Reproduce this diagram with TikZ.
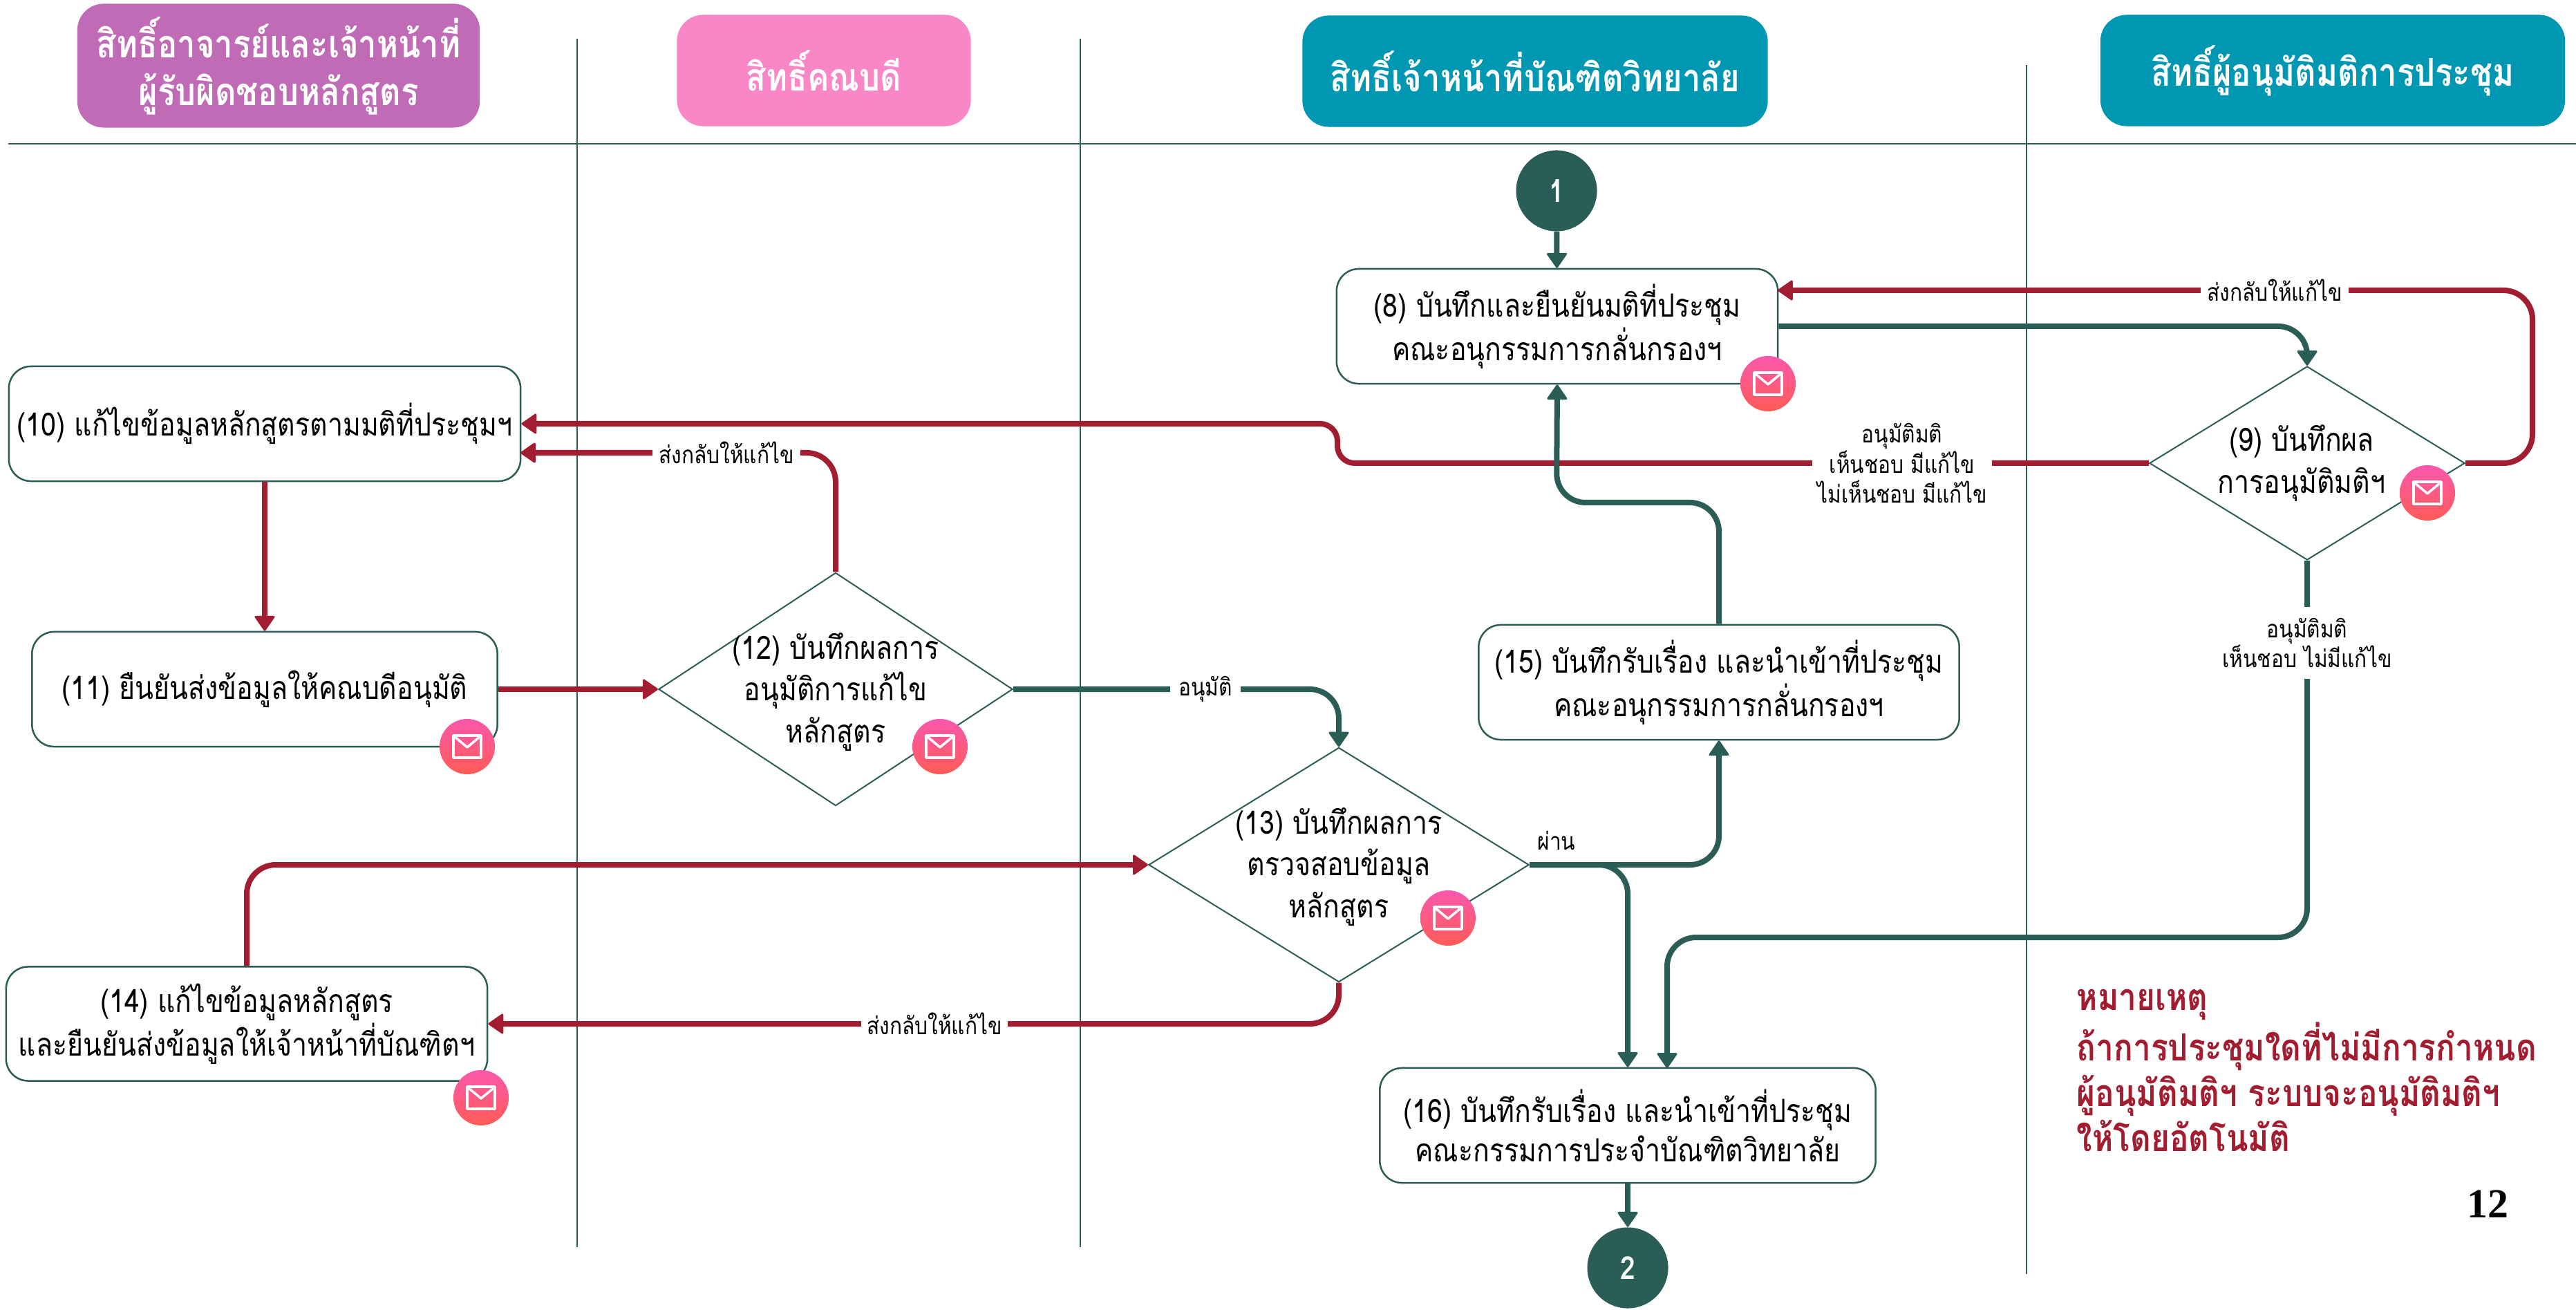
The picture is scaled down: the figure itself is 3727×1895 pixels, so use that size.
\documentclass[tikz,border=0pt]{standalone}
\usepackage{fontspec}
\usetikzlibrary{shapes.geometric,arrows.meta,calc}
\setmainfont[Script=Thai,FakeStretch=0.85]{Loma}
\newfontfamily\serifnum{Liberation Serif}
\definecolor{grn}{HTML}{2A5D55}
\definecolor{rd}{HTML}{A21D30}
\definecolor{teal}{HTML}{0097B2}
\definecolor{purp}{HTML}{BF6BB5}
\definecolor{pnk}{HTML}{F987C5}
\definecolor{mailtop}{HTML}{FA58AC}
\definecolor{mailbot}{HTML}{FF5B57}
\tikzset{
  x=0.01cm,y=-0.01cm,
  lane/.style={draw=grn,line width=0.02cm},
  head/.style={rectangle,rounded corners=0.38cm,text=white,font=\fontsize{15.8}{19.6}\selectfont\bfseries,align=center,inner sep=0pt},
  box/.style={rectangle,rounded corners=0.32cm,draw=grn,line width=0.025cm,fill=white,align=center,inner sep=0pt,font=\fontsize{13.15}{16.2}\selectfont},
  dia/.style={diamond,draw=grn,line width=0.02cm,fill=white,inner sep=0pt},
  diatext/.style={align=center,inner sep=0pt,font=\fontsize{13.15}{17.2}\selectfont},
  tip/.style={-{Triangle[length=0.23cm,width=0.31cm,round,line width=0.03cm]}},
  gline/.style={draw=grn,line width=0.08cm,rounded corners=0.42cm},
  rline/.style={draw=rd,line width=0.08cm,rounded corners=0.42cm},
  lab/.style={fill=white,align=center,inner sep=0pt,font=\fontsize{10}{12.5}\selectfont},
  term/.style={circle,fill=grn,minimum size=1.17cm,inner sep=0pt,text=white,font=\fontsize{13}{15}\selectfont\bfseries},
  mailc/.style={circle,minimum size=0.8cm,inner sep=0pt,top color=mailtop,bottom color=mailbot},
  mail/.pic={
    \node[mailc] (-c) at (0,0) {};
    \draw[white,line width=0.035cm,line join=round] (-20,-16) rectangle (20,16);
    \draw[white,line width=0.035cm,line join=round] (-18,-14) -- (0,1) -- (18,-14);
  }
}
\begin{document}
\begin{tikzpicture}
\useasboundingbox (0,0) rectangle (3727,1895);
\fill[white] (0,0) rectangle (3727,1895);
% lanes
\coordinate (la1) at (835,56);  \coordinate (lb1) at (835,1804);
\coordinate (la2) at (1563,56); \coordinate (lb2) at (1563,1804);
\coordinate (la3) at (2932,94); \coordinate (lb3) at (2932,1843);
\coordinate (ha) at (12,208);   \coordinate (hb) at (3727,208);
\draw[lane] (la1) -- (lb1);
\draw[lane] (la2) -- (lb2);
\draw[lane] (la3) -- (lb3);
\draw[lane,line width=0.025cm] (ha) -- (hb);
% headers
\node[head,fill=purp,minimum width=5.82cm,minimum height=1.79cm] (h1) at (403,95) {สิทธิ์อาจารย์และเจ้าหน้าที่\\ผู้รับผิดชอบหลักสูตร};
\node[head,fill=pnk,minimum width=4.25cm,minimum height=1.61cm] (h2) at (1192,102) {สิทธิ์คณบดี};
\node[head,fill=teal,minimum width=6.73cm,minimum height=1.61cm] (h3) at (2221,103) {สิทธิ์เจ้าหน้าที่บัณฑิตวิทยาลัย};
\node[head,fill=teal,minimum width=6.72cm,minimum height=1.61cm] (h4) at (3375,102) {สิทธิ์ผู้อนุมัติมติการประชุม};
% nodes
\node[term] (t1) at (2252,276) {1};
\node[term] (t2) at (2355,1834) {2};
\node[box,minimum width=6.38cm,minimum height=1.66cm] (n8) at (2253,472) {(8) บันทึกและยืนยันมติที่ประชุม\\คณะอนุกรรมการกลั่นกรองฯ};
\node[box,minimum width=7.40cm,minimum height=1.66cm] (n10) at (383,613) {(10) แก้ไขข้อมูลหลักสูตรตามมติที่ประชุมฯ};
\node[box,minimum width=6.73cm,minimum height=1.66cm] (n11) at (383,997) {(11) ยืนยันส่งข้อมูลให้คณบดีอนุมัติ};
\node[box,minimum width=6.96cm,minimum height=1.65cm] (n14) at (357,1481) {(14) แก้ไขข้อมูลหลักสูตร\\และยืนยันส่งข้อมูลให้เจ้าหน้าที่บัณฑิตฯ};
\node[box,minimum width=6.95cm,minimum height=1.66cm] (n15) at (2487,987) {(15) บันทึกรับเรื่อง และนำเข้าที่ประชุม\\คณะอนุกรรมการกลั่นกรองฯ};
\node[box,minimum width=7.17cm,minimum height=1.66cm] (n16) at (2355,1628) {(16) บันทึกรับเรื่อง และนำเข้าที่ประชุม\\คณะกรรมการประจำบัณฑิตวิทยาลัย};
\node[dia,minimum width=4.56cm,minimum height=2.8cm] (d9) at (3338,670) {};
\node[dia,minimum width=5.12cm,minimum height=3.37cm] (d12) at (1209,997) {};
\node[dia,minimum width=5.5cm,minimum height=3.39cm] (d13) at (1937,1251) {};
\node[diatext] (d9t) at (3330,670) {(9) บันทึกผล\\การอนุมัติมติฯ};
\node[diatext] (d12t) at (1209,1001) {(12) บันทึกผลการ\\อนุมัติการแก้ไข\\หลักสูตร};
\node[diatext] (d13t) at (1937,1254) {(13) บันทึกผลการ\\ตรวจสอบข้อมูล\\หลักสูตร};
% waypoints
\coordinate (w8in) at (2572,420);
\coordinate (w9a) at (3664,670);
\coordinate (w9b) at (3664,420);
\coordinate (w9t) at (3338,472);
\coordinate (w10a) at (1935,670);
\coordinate (w10b) at (1935,613);
\coordinate (w10in) at (753,655);
\coordinate (w12t) at (1209,655);
\coordinate (w13t) at (1937,997);
\coordinate (w14t) at (357,1251);
\coordinate (w13b) at (1937,1481);
\coordinate (w15a) at (2487,727);
\coordinate (w15b) at (2252,727);
\coordinate (w15c) at (2487,1251);
\coordinate (w16a) at (2355,1251);
\coordinate (w9b1) at (3338,1356);
\coordinate (w9b2) at (2412,1356);
\coordinate (w16b) at (2412,1545);
% connectors
\draw[gline,tip] (t1) -- (n8);
\draw[gline,tip] (t2 |- n16.south) -- (t2);
\draw[rline,tip] (d9.east) -- (w9a) -- (w9b) -- (w8in);
\draw[gline,tip] (n8.east) -- (w9t) -- (d9.north);
\draw[rline,rounded corners=0.25cm,tip] (d9.west) -- (w10a) -- (w10b) -- (n10.east);
\draw[rline,tip] (n10.south) -- (n11.north);
\draw[rline,tip] (n11.east) -- (d12.west);
\draw[rline,tip] (d12.north) -- (w12t) -- (w10in);
\draw[gline,tip] (d12.east) -- (w13t) -- (d13.north);
\draw[rline,tip] (n14.north) -- (w14t) -- (d13.west);
\draw[rline,tip] (d13.south) -- (w13b) -- (n14.east);
\draw[gline,tip] (n15.north) -- (w15a) -- (w15b) -- (n8.south);
\draw[gline,tip] (d13.east) -- (w15c) -- (n15.south);
\draw[gline,tip] (d13.east) -- (w16a) -- (n16.north);
\draw[gline,tip] (d9.south) -- (w9b1) -- (w9b2) -- (w16b);
% labels
\node[lab,minimum width=2.14cm] (l1) at (3291,420) {ส่งกลับให้แก้ไข};
\node[lab,minimum width=2.6cm] (l2) at (2752,670) {อนุมัติมติ\\เห็นชอบ มีแก้ไข\\ไม่เห็นชอบ มีแก้ไข};
\node[lab,minimum width=2.14cm] (l3) at (1051,655) {ส่งกลับให้แก้ไข};
\node[lab,minimum width=1.02cm] (l4) at (1744,997) {อนุมัติ};
\node[lab,minimum width=2.12cm] (l5) at (1352,1481) {ส่งกลับให้แก้ไข};
\node[lab,fill=none] (l6) at (2252,1216) {ผ่าน};
\node[lab,minimum height=1.03cm] (l7) at (3338,930) {อนุมัติมติ\\เห็นชอบ ไม่มีแก้ไข};
% mail badges
\pic (m8) at (2558,555) {mail};
\pic (m9) at (3512,713) {mail};
\pic (m11) at (676,1080) {mail};
\pic (m12) at (1360,1080) {mail};
\pic (m13) at (2095,1328) {mail};
\pic (m14) at (696,1588) {mail};
% note
\node[anchor=north west,align=left,inner sep=0pt,text=rd,font=\fontsize{15.4}{18.7}\selectfont\bfseries] (note) at (3004,1430) {หมายเหตุ\\ถ้าการประชุมใดที่ไม่มีการกำหนด\\ผู้อนุมัติมติฯ ระบบจะอนุมัติมติฯ\\ให้โดยอัตโนมัติ};
\node[inner sep=0pt,font=\fontsize{17}{20}\selectfont\bfseries\serifnum] (pg) at (3599,1742) {12};
\end{tikzpicture}
\end{document}
